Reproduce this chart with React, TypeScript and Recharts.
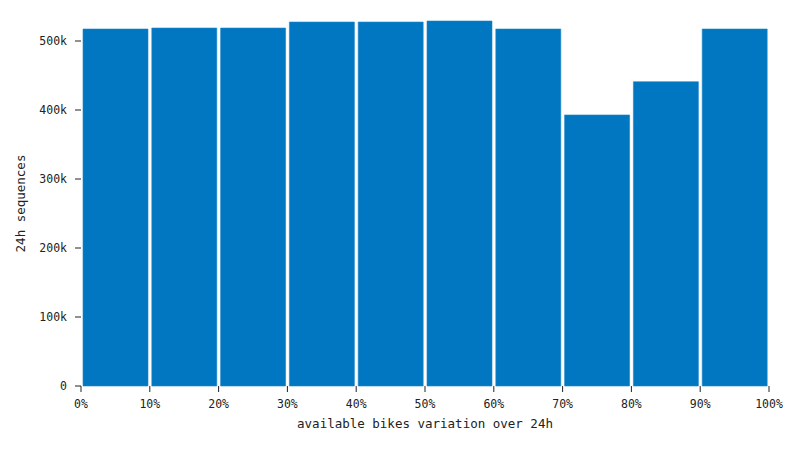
import { BarChart, Bar, XAxis, YAxis } from "recharts";

// histogram bins: start of each 10% bucket and sequence count
const binStarts = [0, 10, 20, 30, 40, 50, 60, 70, 80, 90];
const counts = [517400, 518800, 518800, 527500, 527500, 529000, 517400, 392800, 441000, 517400];
const xTicks = [0, 10, 20, 30, 40, 50, 60, 70, 80, 90, 100];
const yTicks = [0, 100000, 200000, 300000, 400000, 500000];

const data = binStarts.map((s, i) => ({ mid: s + 5, count: counts[i] }));

const FONT = "'DejaVu Sans Mono', monospace";
const INK = "#222";

const fmtK = (v: number) => (v === 0 ? "0" : `${v / 1000}k`);

export default function App() {
  return (
    <div style={{ width: 784, height: 434 }}>
      <BarChart
        width={784}
        height={434}
        data={data}
        margin={{ top: 13, right: 23, bottom: 0, left: 0 }}
        barCategoryGap={2}
      >
        <XAxis
          dataKey="mid"
          type="number"
          domain={[0, 100]}
          ticks={xTicks}
          tickFormatter={(v: number) => `${v}%`}
          axisLine={false}
          tickLine={{ stroke: INK }}
          tickSize={6}
          tickMargin={8}
          height={56}
          interval={0}
          tick={{ fill: INK, fontSize: 11.5, fontFamily: FONT }}
          label={{
            content: ({ viewBox }: any) => (
              <text
                x={viewBox.x + viewBox.width / 2}
                y={viewBox.y + 42}
                textAnchor="middle"
                fill={INK}
                fontSize={12.5}
                fontFamily={FONT}
              >
                available bikes variation over 24h
              </text>
            ),
          }}
        />
        <YAxis
          type="number"
          domain={[0, "dataMax"]}
          ticks={yTicks}
          tickFormatter={fmtK}
          axisLine={false}
          tickLine={{ stroke: INK }}
          tickSize={6}
          tickMargin={8}
          width={73}
          interval={0}
          tick={{ fill: INK, fontSize: 11.5, fontFamily: FONT }}
          label={{
            content: ({ viewBox }: any) => {
              const cx = viewBox.x + 12;
              const cy = viewBox.y + viewBox.height / 2;
              return (
                <text
                  x={cx}
                  y={cy}
                  transform={`rotate(-90 ${cx} ${cy})`}
                  textAnchor="middle"
                  dominantBaseline="central"
                  fill={INK}
                  fontSize={12.5}
                  fontFamily={FONT}
                >
                  24h sequences
                </text>
              );
            },
          }}
        />
        <Bar dataKey="count" fill="#0077c0" stroke="#1b86c9" strokeWidth={0.6} isAnimationActive={false} />
      </BarChart>
    </div>
  );
}
